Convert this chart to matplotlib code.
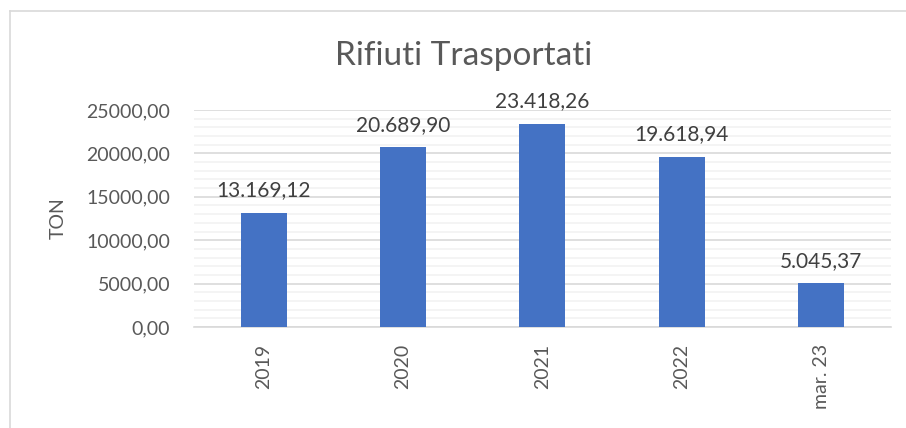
import matplotlib.pyplot as plt
from matplotlib.lines import Line2D
from matplotlib.ticker import MultipleLocator, FuncFormatter

categories = ["2019", "2020", "2021", "2022", "mar. 23"]
values = [13169.12, 20689.90, 23418.26, 19618.94, 5045.37]
value_labels = ["13.169,12", "20.689,90", "23.418,26", "19.618,94", "5.045,37"]

plt.rcParams["font.family"] = ["Lato", "DejaVu Sans"]
text_color = "#595959"

fig = plt.figure(figsize=(9.06, 4.28), dpi=100)
ax = fig.add_axes([0.2141, 0.236, 0.7693, 0.507])

x = range(len(categories))
ax.bar(x, values, width=0.33, color="#4472C4", zorder=3)

for xi, v, lab in zip(x, values, value_labels):
    ax.annotate(lab, (xi, v), xytext=(0, 9), textcoords="offset points",
                ha="center", va="bottom", fontsize=15, color="#404040")

ax.set_xlim(-0.5, len(categories) - 0.5)
ax.set_ylim(0, 25000)
ax.yaxis.set_major_locator(MultipleLocator(5000))
ax.yaxis.set_minor_locator(MultipleLocator(1000))
ax.yaxis.set_major_formatter(FuncFormatter(lambda v, p: f"{v:.2f}".replace(".", ",")))
ax.set_xticks(list(x))
ax.set_xticklabels(categories, rotation=90)

ax.grid(axis="y", which="major", color="#d9d9d9", lw=1.2, zorder=0)
ax.grid(axis="y", which="minor", color="#f2f2f2", lw=1.2, zorder=0)
for s in ["top", "right", "left"]:
    ax.spines[s].set_visible(False)
ax.spines["bottom"].set_color("#d9d9d9")
ax.spines["bottom"].set_linewidth(1.2)
ax.tick_params(axis="both", which="both", length=0, labelsize=14, colors=text_color)
ax.tick_params(axis="y", pad=17)
ax.tick_params(axis="x", pad=12)

ax.set_ylabel("TON", fontsize=14, color=text_color)
ax.yaxis.set_label_coords(-0.182, 0.5)

fig.text(0.512, 0.87, "Rifiuti Trasportati", ha="center", va="center",
         fontsize=24, color=text_color)

# chart frame (top and left edges visible in the crop)
fig.add_artist(Line2D([0.011, 1.0], [0.975, 0.975], color="#d9d9d9", lw=1.2))
fig.add_artist(Line2D([0.011, 0.011], [0.0, 0.975], color="#d9d9d9", lw=1.2))

fig.savefig("out.png", dpi=100, facecolor="white")
